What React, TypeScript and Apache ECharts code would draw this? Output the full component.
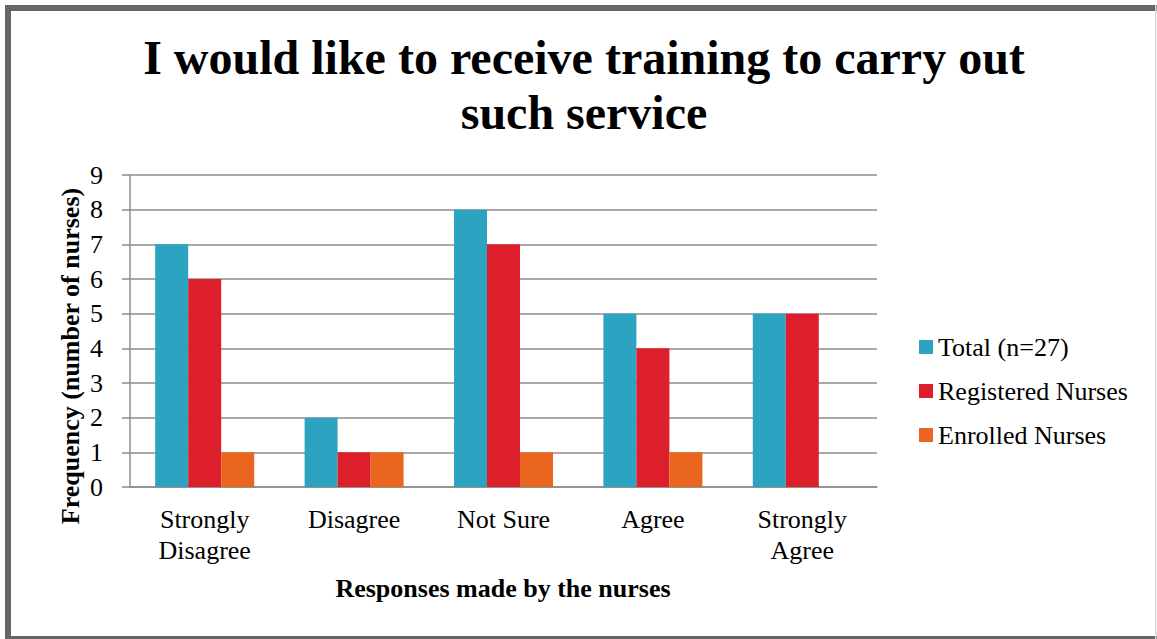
import React, { useEffect, useRef } from "react";
import * as echarts from "echarts";

const categories = ["Strongly\nDisagree", "Disagree", "Not Sure", "Agree", "Strongly\nAgree"];
const totalValues = [7, 2, 8, 5, 5];
const registeredValues = [6, 1, 7, 4, 5];
const enrolledValues = [1, 1, 1, 1, 0];
const seriesNames = ["Total (n=27)", "Registered Nurses", "Enrolled Nurses"];
const titleText = "I would like to receive training to carry out\nsuch service";
const yAxisTitle = "Frequency (number of nurses)";
const xAxisTitle = "Responses made by the nurses";

const FONT = "'Liberation Serif', 'Times New Roman', serif";

export default function App() {
  const ref = useRef<HTMLDivElement>(null);
  useEffect(() => {
    if (!ref.current) return;
    const chart = echarts.init(ref.current, null, { renderer: "svg" });
    const colors = ["#2CA3C1", "#DC1F2B", "#EA6620"];
    chart.setOption({
      animation: false,
      backgroundColor: "#ffffff",
      color: colors,
      title: {
        text: titleText,
        left: 584,
        textAlign: "center",
        top: 30,
        padding: 0,
        textStyle: {
          fontFamily: FONT,
          fontSize: 48,
          fontWeight: "bold",
          color: "#000",
          lineHeight: 55,
        },
      },
      legend: {
        orient: "vertical",
        left: 919,
        top: 334,
        padding: 0,
        itemWidth: 14,
        itemHeight: 14,
        itemGap: 18,
        icon: "rect",
        textStyle: { fontFamily: FONT, fontSize: 26, color: "#000" },
        data: seriesNames,
      },
      grid: { left: 130, right: 280, top: 175, bottom: 152, containLabel: false },
      xAxis: {
        type: "category",
        data: categories,
        axisLine: { show: true, lineStyle: { color: "#8c8c8c", width: 1.5 } },
        axisTick: { show: false },
        axisLabel: {
          fontFamily: FONT,
          fontSize: 26,
          color: "#000",
          margin: 17,
          lineHeight: 31,
          interval: 0,
        },
      },
      yAxis: {
        type: "value",
        min: 0,
        max: 9,
        interval: 1,
        axisLine: { show: true, lineStyle: { color: "#8c8c8c", width: 1.5 } },
        axisTick: { show: true, length: 8, lineStyle: { color: "#8c8c8c", width: 1.5 } },
        splitLine: { show: true, lineStyle: { color: "#8c8c8c", width: 1.5 } },
        axisLabel: { fontFamily: FONT, fontSize: 26, color: "#000", margin: 27 },
      },
      series: [
        { name: seriesNames[0], type: "bar", data: totalValues, barWidth: 33, barGap: "0%" },
        { name: seriesNames[1], type: "bar", data: registeredValues, barWidth: 33, barGap: "0%" },
        { name: seriesNames[2], type: "bar", data: enrolledValues, barWidth: 33, barGap: "0%" },
      ],
      graphic: [
        { type: "rect", shape: { x: 5, y: 5, width: 6, height: 634 }, style: { fill: "#666" } },
        { type: "rect", shape: { x: 5, y: 5, width: 1152, height: 6 }, style: { fill: "#666" } },
        { type: "rect", shape: { x: 5, y: 636, width: 1152, height: 3 }, style: { fill: "#666" } },
        { type: "rect", shape: { x: 1155, y: 5, width: 1.5, height: 634 }, style: { fill: "#d8d8d8" } },
        {
          type: "text",
          x: 70,
          y: 356,
          rotation: Math.PI / 2,
          style: {
            text: yAxisTitle,
            fontFamily: FONT,
            fontSize: 26,
            fontWeight: "bold",
            fill: "#000",
            align: "center",
            verticalAlign: "middle",
          },
        },
        {
          type: "text",
          x: 503,
          y: 588,
          style: {
            text: xAxisTitle,
            fontFamily: FONT,
            fontSize: 26,
            fontWeight: "bold",
            fill: "#000",
            align: "center",
            verticalAlign: "middle",
          },
        },
      ],
    });
    return () => chart.dispose();
  }, []);
  return (
    <div
      ref={ref}
      style={{ position: "fixed", left: 0, top: 0, width: 1157, height: 639 }}
    />
  );
}
